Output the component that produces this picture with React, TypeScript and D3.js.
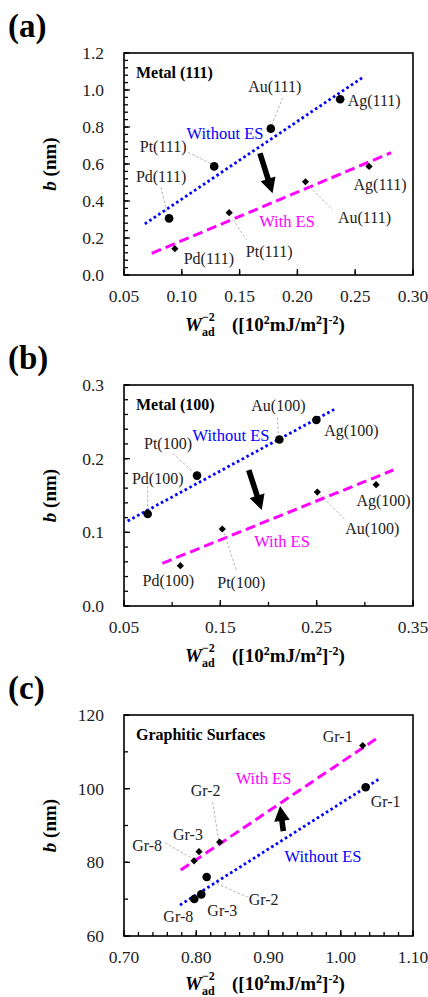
import React from "react";
import * as d3 from "d3";

const FONT = "Liberation Serif, DejaVu Serif, serif";

// ---------- Panel (a): Metal (111) ----------
const labels111 = ["Pd(111)", "Pt(111)", "Au(111)", "Ag(111)"];
const noES111X = [0.089, 0.128, 0.177, 0.237];
const noES111Y = [0.306, 0.587, 0.791, 0.95];
const es111X = [0.094, 0.141, 0.207, 0.262];
const es111Y = [0.142, 0.337, 0.504, 0.587];
const fitNoES111X = [0.068, 0.256];
const fitNoES111Y = [0.276, 1.066];
const fitES111X = [0.074, 0.281];
const fitES111Y = [0.117, 0.661];
const arrow111X = [0.1676, 0.1785];
const arrow111Y = [0.658, 0.442];
const xTicks111 = [0.05, 0.1, 0.15, 0.2, 0.25, 0.3];
const yTicks111 = [0, 0.2, 0.4, 0.6, 0.8, 1.0, 1.2];

// ---------- Panel (b): Metal (100) ----------
const labels100 = ["Pd(100)", "Pt(100)", "Au(100)", "Ag(100)"];
const noES100X = [0.0746, 0.1258, 0.2113, 0.2497];
const noES100Y = [0.125, 0.177, 0.226, 0.2525];
const es100X = [0.1085, 0.152, 0.2507, 0.3117];
const es100Y = [0.0547, 0.1045, 0.1547, 0.1647];
const fitNoES100X = [0.0538, 0.2684];
const fitNoES100Y = [0.1154, 0.267];
const fitES100X = [0.0898, 0.3296];
const fitES100Y = [0.058, 0.1846];
const arrow100X = [0.1795, 0.193];
const arrow100Y = [0.1846, 0.1303];
const xTicks100 = [0.05, 0.15, 0.25, 0.35];
const yTicks100 = [0, 0.1, 0.2, 0.3];

// ---------- Panel (c): Graphitic surfaces ----------
const labelsGr = ["Gr-8", "Gr-3", "Gr-2", "Gr-1"];
const noESGrX = [0.7973, 0.807, 0.8144, 1.0345];
const noESGrY = [70.05, 71.3, 76.0, 100.4];
const esGrX = [0.797, 0.8038, 0.8324, 1.0304];
const esGrY = [80.4, 82.9, 85.5, 111.7];
const fitNoESGrX = [0.7775, 1.052];
const fitNoESGrY = [68.4, 102.5];
const fitESGrX = [0.7785, 1.0534];
const fitESGrY = [77.9, 114.1];
const arrowGrX = [0.9205, 0.916];
const arrowGrY = [88.5, 95.3];
const xTicksGr = [0.7, 0.8, 0.9, 1.0, 1.1];
const yTicksGr = [60, 80, 100, 120];

const BLUE = "#0000FF";
const MAGENTA = "#FF00FF";
const L = 124;
const R = 413;

type Off = [number, number];
type Leader = [number, number, number, number] | null;

interface PanelCfg {
  tag: string;
  title: string;
  top: number;
  bottom: number;
  xDomain: [number, number];
  yDomain: [number, number];
  xTicks: number[];
  xMinorStep: number;
  xFmt: string;
  yTicks: number[];
  yMinorStep: number;
  yFmt: string;
  names: string[];
  noX: number[];
  noY: number[];
  esX: number[];
  esY: number[];
  fitNoX: number[];
  fitNoY: number[];
  fitEsX: number[];
  fitEsY: number[];
  arrowX: number[];
  arrowY: number[];
  noOff: Off[];
  noLead: Leader[];
  esOff: Off[];
  esLead: Leader[];
  withoutPos: Off;
  withPos: Off;
  titleDy: number;
}

const panels: PanelCfg[] = [
  {
    tag: "(a)",
    title: "Metal (111)",
    top: 53,
    bottom: 275,
    xDomain: [0.05, 0.3],
    yDomain: [0, 1.2],
    xTicks: xTicks111,
    xMinorStep: 0.05,
    xFmt: ".2f",
    yTicks: yTicks111,
    yMinorStep: 0.04,
    yFmt: ".1f",
    names: labels111,
    noX: noES111X,
    noY: noES111Y,
    esX: es111X,
    esY: es111Y,
    fitNoX: fitNoES111X,
    fitNoY: fitNoES111Y,
    fitEsX: fitES111X,
    fitEsY: fitES111Y,
    arrowX: arrow111X,
    arrowY: arrow111Y,
    noOff: [[-8, -42], [-51, -20], [4, -42], [34, 1]],
    noLead: [[-8, -31, -2, -5], [-26, -14, -4, -3], [12, -31, 1, -4], null],
    esOff: [[34, 10], [40, 39], [59, 36], [11, 18]],
    esLead: [null, [4, 7, 17, 27], [4, 5, 27, 28], null],
    withoutPos: [101, 80],
    withPos: [163, 168],
    titleDy: 56,
  },
  {
    tag: "(b)",
    title: "Metal (100)",
    top: 385,
    bottom: 606,
    xDomain: [0.05, 0.35],
    yDomain: [0, 0.3],
    xTicks: xTicks100,
    xMinorStep: 0.05,
    xFmt: ".2f",
    yTicks: yTicks100,
    yMinorStep: 0.02,
    yFmt: ".1f",
    names: labels100,
    noX: noES100X,
    noY: noES100Y,
    esX: es100X,
    esY: es100Y,
    fitNoX: fitNoES100X,
    fitNoY: fitNoES100Y,
    fitEsX: fitES100X,
    fitEsY: fitES100Y,
    arrowX: arrow100X,
    arrowY: arrow100Y,
    noOff: [[10, -36], [-29, -32], [-1, -34], [35, 10]],
    noLead: [[0, -28, 0, -6], [-24, -22, -4, -4], [-2, -22, -1, -4], null],
    esOff: [[-12, 15], [19, 53], [55, 36], [7.5, 16]],
    esLead: [null, [2, 4, 14, 41], [3, 3, 28, 28], null],
    withoutPos: [107, 50],
    withPos: [158, 156],
    titleDy: 56,
  },
  {
    tag: "(c)",
    title: "Graphitic Surfaces",
    top: 715,
    bottom: 936,
    xDomain: [0.7, 1.1],
    yDomain: [60, 120],
    xTicks: xTicksGr,
    xMinorStep: 0.02,
    xFmt: ".2f",
    yTicks: yTicksGr,
    yMinorStep: 10,
    yFmt: "d",
    names: labelsGr,
    noX: noESGrX,
    noY: noESGrY,
    esX: esGrX,
    esY: esGrY,
    fitNoX: fitNoESGrX,
    fitNoY: fitNoESGrY,
    fitEsX: fitESGrX,
    fitEsY: fitESGrY,
    arrowX: arrowGrX,
    arrowY: arrowGrY,
    noOff: [[-16, 17], [21, 16], [57, 22], [20, 14]],
    noLead: [null, null, [2, 3, 41, 20], null],
    esOff: [[-47, -15], [-11, -17], [-14, -52], [-25, -9]],
    esLead: [[-29, -18, -1, -2], null, [-7, -40, -1, -2], null],
    withoutPos: [199, 141],
    withPos: [139.5, 63],
    titleDy: 54,
  },
];

function arrowPath(x1: number, y1: number, x2: number, y2: number) {
  const dx = x2 - x1;
  const dy = y2 - y1;
  const len = Math.hypot(dx, dy);
  const ux = dx / len;
  const uy = dy / len;
  const nx = -uy;
  const ny = ux;
  const sw = 2.8;
  const hw = 7.8;
  const hl = 15;
  const p = (a: number, b: number) => [x1 + ux * a + nx * b, y1 + uy * a + ny * b];
  const pts = [
    p(0, -sw),
    p(len - hl, -sw),
    p(len - hl, -hw),
    p(len, 0),
    p(len - hl, hw),
    p(len - hl, sw),
    p(0, sw),
  ];
  return "M" + pts.map((q) => q.join(",")).join("L") + "Z";
}

const txt = { fontFamily: FONT };

function Panel({ cfg }: { cfg: PanelCfg }) {
  const x = d3.scaleLinear().domain(cfg.xDomain).range([L, R]);
  const y = d3.scaleLinear().domain(cfg.yDomain).range([cfg.bottom, cfg.top]);
  const xMinor = d3.range(cfg.xDomain[0], cfg.xDomain[1] + 1e-9, cfg.xMinorStep);
  const yMinor = d3.range(cfg.yDomain[0], cfg.yDomain[1] + 1e-9, cfg.yMinorStep);
  const xf = d3.format(cfg.xFmt);
  const yf = d3.format(cfg.yFmt);
  const fitPath = (xs: number[], ys: number[]) =>
    d3.line<number>().x((d) => x(d)).y((_, i) => y(ys[i]))(xs) || "";
  const diamond = d3.symbol().type(d3.symbolSquare).size(26)() || "";
  const cy = (cfg.top + cfg.bottom) / 2;
  const tx = 185;
  const ty = cfg.bottom + cfg.titleDy;
  return (
    <g>
      <text x={8} y={cfg.top - 16} style={txt} fontWeight="bold" fontSize={33}>
        {cfg.tag}
      </text>
      {xMinor.map((v, i) => (
        <line key={"xm" + i} x1={x(v)} x2={x(v)} y1={cfg.bottom} y2={cfg.bottom - 4} stroke="#000" strokeWidth={1.3} />
      ))}
      {cfg.xTicks.map((v, i) => (
        <line key={"xM" + i} x1={x(v)} x2={x(v)} y1={cfg.bottom} y2={cfg.bottom - 6} stroke="#000" strokeWidth={1.3} />
      ))}
      {yMinor.map((v, i) => (
        <line key={"ym" + i} x1={L} x2={L + 4} y1={y(v)} y2={y(v)} stroke="#000" strokeWidth={1.3} />
      ))}
      {cfg.yTicks.map((v, i) => (
        <line key={"yM" + i} x1={L} x2={L + 6} y1={y(v)} y2={y(v)} stroke="#000" strokeWidth={1.3} />
      ))}
      <rect x={L} y={cfg.top} width={R - L} height={cfg.bottom - cfg.top} fill="none" stroke="#000" strokeWidth={1.6} />
      {cfg.xTicks.map((v, i) => (
        <text key={"xl" + i} x={x(v)} y={cfg.bottom + 27} textAnchor="middle" style={txt} fontSize={17.5} fill="#222">
          {xf(v)}
        </text>
      ))}
      {cfg.yTicks.map((v, i) => (
        <text key={"yl" + i} x={L - 20} y={y(v)} dy="0.35em" textAnchor="end" style={txt} fontSize={17.5} fill="#222">
          {yf(v)}
        </text>
      ))}
      <text transform={`translate(56,${cy}) rotate(-90)`} textAnchor="middle" style={txt} fontWeight="bold" fontSize={19}>
        <tspan fontStyle="italic">b</tspan> (nm)
      </text>
      <text x={tx} y={ty} style={txt} fontWeight="bold" fontSize={19} fontStyle="italic">
        W
      </text>
      <text x={tx + 17} y={ty - 10} style={txt} fontWeight="bold" fontSize={12}>
        −2
      </text>
      <text x={tx + 17} y={ty + 5} style={txt} fontWeight="bold" fontSize={12}>
        ad
      </text>
      <text x={tx + 47} y={ty} style={txt} fontWeight="bold" fontSize={19}>
        ([10<tspan fontSize={12} dy={-7}>2</tspan>
        <tspan dy={7}>mJ/m</tspan>
        <tspan fontSize={12} dy={-7}>2</tspan>
        <tspan dy={7}>]</tspan>
        <tspan fontSize={12} dy={-7}>-2</tspan>
        <tspan dy={7}>)</tspan>
      </text>
      <text x={L + 12} y={cfg.top + 19} dy="0.35em" style={txt} fontWeight="bold" fontSize={16}>
        {cfg.title}
      </text>
      <path d={fitPath(cfg.fitNoX, cfg.fitNoY)} stroke={BLUE} strokeWidth={2.8} strokeDasharray="2.6 2.8" fill="none" />
      <path d={fitPath(cfg.fitEsX, cfg.fitEsY)} stroke={MAGENTA} strokeWidth={3} strokeDasharray="10 5" fill="none" />
      <text x={L + cfg.withoutPos[0]} y={cfg.top + cfg.withoutPos[1]} dy="0.35em" textAnchor="middle" style={txt} fontSize={16.5} fill={BLUE}>
        Without ES
      </text>
      <text x={L + cfg.withPos[0]} y={cfg.top + cfg.withPos[1]} dy="0.35em" textAnchor="middle" style={txt} fontSize={16.5} fill={MAGENTA}>
        With ES
      </text>
      {cfg.noLead.map((ld, i) =>
        ld ? (
          <line key={"nl" + i} x1={x(cfg.noX[i]) + ld[0]} y1={y(cfg.noY[i]) + ld[1]} x2={x(cfg.noX[i]) + ld[2]} y2={y(cfg.noY[i]) + ld[3]} stroke="#aaa" strokeWidth={0.9} strokeDasharray="2.5 2" />
        ) : null
      )}
      {cfg.esLead.map((ld, i) =>
        ld ? (
          <line key={"el" + i} x1={x(cfg.esX[i]) + ld[0]} y1={y(cfg.esY[i]) + ld[1]} x2={x(cfg.esX[i]) + ld[2]} y2={y(cfg.esY[i]) + ld[3]} stroke="#aaa" strokeWidth={0.9} strokeDasharray="2.5 2" />
        ) : null
      )}
      {cfg.noX.map((v, i) => (
        <circle key={"np" + i} cx={x(v)} cy={y(cfg.noY[i])} r={4.3} fill="#000" />
      ))}
      {cfg.esX.map((v, i) => (
        <path key={"ep" + i} d={diamond} transform={`translate(${x(v)},${y(cfg.esY[i])}) rotate(45)`} fill="#000" />
      ))}
      {cfg.noX.map((v, i) => (
        <text key={"nt" + i} x={x(v) + cfg.noOff[i][0]} y={y(cfg.noY[i]) + cfg.noOff[i][1]} dy="0.35em" textAnchor="middle" style={txt} fontSize={16} fill="#222">
          {cfg.names[i]}
        </text>
      ))}
      {cfg.esX.map((v, i) => (
        <text key={"et" + i} x={x(v) + cfg.esOff[i][0]} y={y(cfg.esY[i]) + cfg.esOff[i][1]} dy="0.35em" textAnchor="middle" style={txt} fontSize={16} fill="#222">
          {cfg.names[i]}
        </text>
      ))}
      <path d={arrowPath(x(cfg.arrowX[0]), y(cfg.arrowY[0]), x(cfg.arrowX[1]), y(cfg.arrowY[1]))} fill="#000" />
    </g>
  );
}

export default function App() {
  return (
    <svg
      width={428}
      height={997}
      viewBox="0 0 428 997"
      style={{ position: "absolute", left: 0, top: 0, background: "#fff" }}
    >
      <rect width={428} height={997} fill="#fff" />
      {panels.map((p) => (
        <Panel key={p.tag} cfg={p} />
      ))}
    </svg>
  );
}
